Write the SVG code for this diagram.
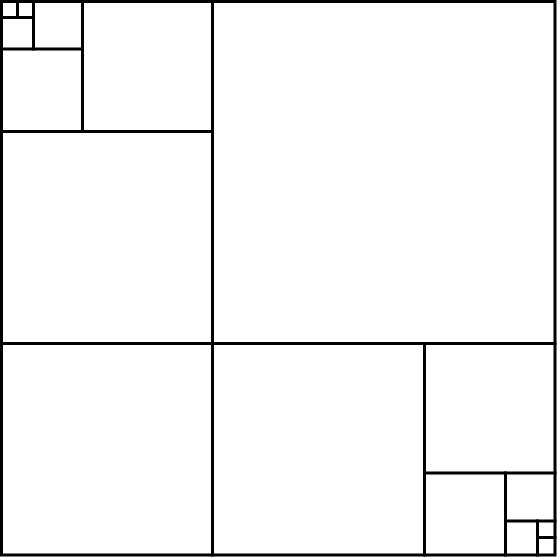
<svg xmlns="http://www.w3.org/2000/svg" width="557" height="557" viewBox="0 0 557 557">
<style>
.b{fill:none;stroke:#000;stroke-width:3}
.l{stroke:#000;stroke-width:3;stroke-linecap:square}
</style>
<rect x="0" y="0" width="557" height="557" fill="#fff"/>
<g id="tiling">
<line class="l" x1="212.5" y1="2" x2="212.5" y2="555"/>
<line class="l" x1="2" y1="343.5" x2="555" y2="343.5"/>
<line class="l" x1="2" y1="131.5" x2="212.5" y2="131.5"/>
<line class="l" x1="82.5" y1="2" x2="82.5" y2="131.5"/>
<line class="l" x1="2" y1="49" x2="82.5" y2="49"/>
<line class="l" x1="33.5" y1="2" x2="33.5" y2="49"/>
<line class="l" x1="2" y1="17.5" x2="33.5" y2="17.5"/>
<line class="l" x1="17.5" y1="2" x2="17.5" y2="17.5"/>
<line class="l" x1="424.5" y1="343.5" x2="424.5" y2="555"/>
<line class="l" x1="424.5" y1="473" x2="555" y2="473"/>
<line class="l" x1="505.5" y1="473" x2="505.5" y2="555"/>
<line class="l" x1="505.5" y1="521" x2="555" y2="521"/>
<line class="l" x1="537.5" y1="521" x2="537.5" y2="555"/>
<line class="l" x1="537.5" y1="537.5" x2="555" y2="537.5"/>
<rect class="b" x="1.5" y="1.5" width="553.5" height="553.5"/>
</g>
</svg>
